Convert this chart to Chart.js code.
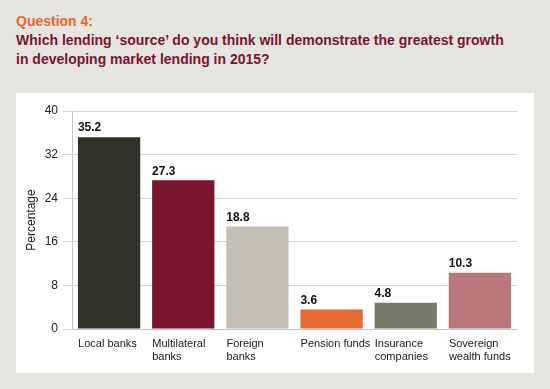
<!DOCTYPE html>
<html>
<head>
<meta charset="utf-8">
<script src="https://cdn.jsdelivr.net/npm/chart.js@4"></script>
<style>
  html, body { margin: 0; padding: 0; }
  body { width: 550px; height: 389px; background: #e6e4e0; position: relative; overflow: hidden;
         font-family: "Liberation Sans", Arial, sans-serif; }
  .q { position: absolute; left: 16px; top: 13px; font-weight: bold; font-size: 14px; color: #e8692d; }
  .t { position: absolute; left: 16px; top: 31px; font-weight: bold; font-size: 14px; line-height: 19px; color: #7a1530; }
  .panel { position: absolute; left: 16px; top: 93px; width: 518px; height: 280px; background: #fff; }
</style>
</head>
<body>
<div class="q">Question 4:</div>
<div class="t">Which lending ‘source’ do you think will demonstrate the greatest growth<br>in developing market lending in 2015?</div>
<div class="panel"><canvas id="chart" width="518" height="280"></canvas></div>
<script>
// Data
const categories = [['Local banks'], ['Multilateral', 'banks'], ['Foreign', 'banks'], ['Pension funds'], ['Insurance', 'companies'], ['Sovereign', 'wealth funds']];
const values = [35.2, 27.3, 18.8, 3.6, 4.8, 10.3];
const barColors = ['#33322a', '#7a1530', '#c6bfb5', '#e66a33', '#787a6a', '#b8787c'];
const yTicks = [0, 8, 16, 24, 32, 40];

// value labels above each bar, left aligned to the bar edge
const valueLabels = {
    id: 'valueLabels',
    afterDatasetsDraw(chart) {
        const ctx = chart.ctx;
        const meta = chart.getDatasetMeta(0);
        ctx.save();
        ctx.font = 'bold 12px "Liberation Sans", Arial, sans-serif';
        ctx.fillStyle = '#111';
        ctx.textAlign = 'left';
        ctx.textBaseline = 'bottom';
        meta.data.forEach((bar, i) => {
            ctx.fillText(values[i].toFixed(1), bar.x - bar.width / 2, bar.y - 3);
        });
        ctx.restore();
    }
};

new Chart(document.getElementById('chart'), {
    type: 'bar',
    data: {
        labels: categories,
        datasets: [{
            data: values,
            backgroundColor: barColors,
            borderWidth: 0,
            categoryPercentage: 1,
            barPercentage: 0.84
        }]
    },
    options: {
        responsive: false,
        animation: false,
        layout: { padding: { top: 18, right: 17, left: 0, bottom: 0 } },
        plugins: { legend: { display: false }, tooltip: { enabled: false } },
        scales: {
            x: {
                grid: { display: false, drawTicks: false },
                border: { color: '#c9c5bf' },
                ticks: {
                    color: '#222',
                    font: { family: '"Liberation Sans", Arial, sans-serif', size: 11, lineHeight: 1.2 },
                    align: 'start',
                    labelOffset: -31,
                    padding: 8,
                    autoSkip: false,
                    maxRotation: 0
                },
                afterFit(scale) {
                    scale.height = 44;
                    scale.paddingLeft = 0;
                    scale.paddingRight = 0;
                }
            },
            y: {
                min: 0,
                max: 40,
                afterBuildTicks(scale) { scale.ticks = yTicks.map(v => ({ value: v })); },
                grid: { color: '#d8d4ce', tickLength: 9 },
                border: { color: '#c9c5bf' },
                ticks: {
                    color: '#222',
                    font: { family: '"Liberation Sans", Arial, sans-serif', size: 12 },
                    padding: 5
                },
                title: {
                    display: true,
                    text: 'Percentage',
                    color: '#222',
                    font: { family: '"Liberation Sans", Arial, sans-serif', size: 12 },
                    padding: { top: 8, bottom: 0 }
                },
                afterFit(scale) {
                    scale.width = 56;
                    scale.paddingTop = 0;
                    scale.paddingBottom = 0;
                }
            }
        }
    },
    plugins: [valueLabels]
});
</script>
</body>
</html>
